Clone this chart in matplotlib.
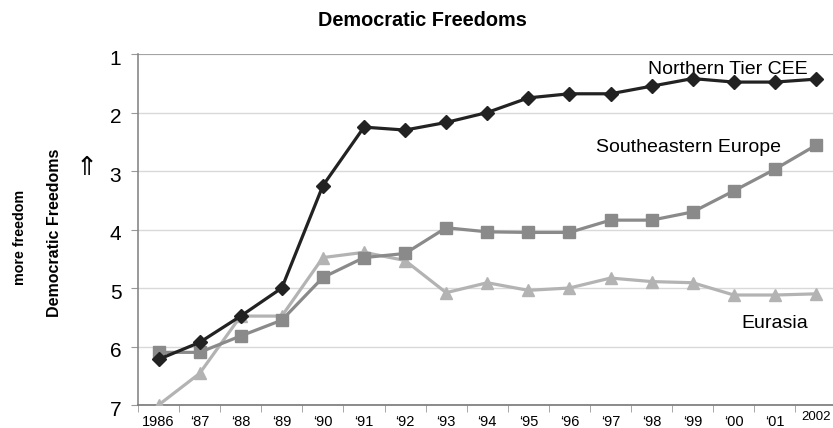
import numpy as np
import matplotlib
matplotlib.use('Agg')
import matplotlib.pyplot as plt
import matplotlib.transforms as mtransforms

plt.rcParams['font.family'] = ['Liberation Sans', 'DejaVu Sans']

years = ['1986', '\u201887', '\u201888', '\u201889', '\u201890', '\u201891', '\u201892',
         '\u201893', '\u201894', '\u201895', '\u201896', '\u201897', '\u201898', '\u201899',
         '\u201800', '\u201801', '2002']
northern = [6.22, 5.93, 5.48, 5.0, 3.25, 2.25, 2.3, 2.17, 2.0, 1.75, 1.68, 1.68,
            1.55, 1.42, 1.48, 1.48, 1.43]
southeast = [6.1, 6.1, 5.82, 5.55, 4.82, 4.48, 4.41, 3.97, 4.04, 4.05, 4.05, 3.84,
             3.84, 3.7, 3.34, 2.97, 2.56]
eurasia = [7.0, 6.46, 5.48, 5.48, 4.48, 4.39, 4.53, 5.08, 4.91, 5.04, 5.0, 4.83,
           4.89, 4.91, 5.12, 5.12, 5.1]

x = np.arange(len(years))

fig = plt.figure(figsize=(8.33, 4.28), dpi=100)
ax = fig.add_axes([138 / 833, 1 - 405 / 428, (836.5 - 138) / 833, (405 - 54) / 428])

ax.plot(x, eurasia, '^-', color='#b3b3b3', lw=2.3, ms=9, zorder=3)
ax.plot(x, southeast, 's-', color='#8a8a8a', lw=2.3, ms=8, zorder=4)
ax.plot(x, northern, 'D-', color='#222222', lw=2.3, ms=7, zorder=5)

ax.set_ylim(7, 1)
ax.set_xlim(-0.5, len(years) - 0.5)
ax.set_yticks([1, 2, 3, 4, 5, 6, 7])
ax.tick_params(axis='y', labelsize=15, length=5, color='#999999', pad=7)
off = mtransforms.ScaledTranslation(0, -3 / 100, fig.dpi_scale_trans)
for t in ax.get_yticklabels():
    t.set_transform(t.get_transform() + off)
ax.grid(axis='y', color='#d9d9d9', lw=1)
ax.axhline(1, color='#999999', lw=1.2)

ax.set_xticks(x)
ax.set_xticklabels(years)
ax.tick_params(axis='x', which='major', length=0, labelsize=10.5, pad=7)
ax.set_xticks(np.arange(-0.5, len(years)), minor=True)
ax.tick_params(axis='x', which='minor', length=5, color='#999999')
lbl = ax.get_xticklabels()[-1]
lbl.set_fontsize(9.5)
lbl.set_y(0.012)

for s in ['top', 'right']:
    ax.spines[s].set_visible(False)
ax.spines['left'].set_color('#888888')
ax.spines['bottom'].set_color('#777777')
ax.spines['left'].set_linewidth(1.2)
ax.spines['bottom'].set_linewidth(1.2)

ax.text(15.8, 1.27, 'Northern Tier CEE', fontsize=14, ha='right', va='center')
ax.text(15.15, 2.6, 'Southeastern Europe', fontsize=14, ha='right', va='center')
ax.text(15.8, 5.6, 'Eurasia', fontsize=14, ha='right', va='center')

fig.text(422 / 833, 1 - 20 / 428, 'Democratic Freedoms', fontsize=14.3, fontweight='bold',
         ha='center', va='center')
fig.text(55 / 833, 1 - 233 / 428, 'Democratic Freedoms', fontsize=11.5, fontweight='bold',
         rotation=90, ha='center', va='center')
fig.text(20 / 833, 1 - 237 / 428, 'more freedom', fontsize=10.3, fontweight='bold',
         rotation=90, ha='center', va='center')
fig.text(87 / 833, 1 - 168 / 428, '\u21d1', fontsize=19, family='DejaVu Sans',
         ha='center', va='center')

fig.savefig('out.png', dpi=100)
